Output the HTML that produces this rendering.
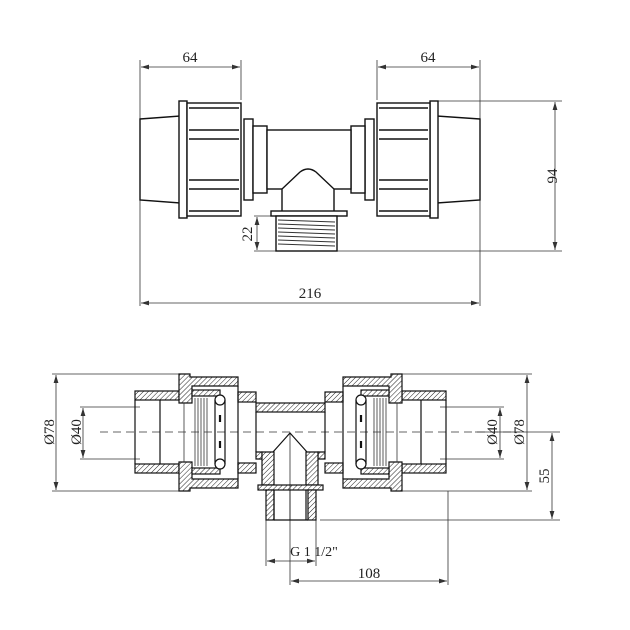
<!DOCTYPE html>
<html><head><meta charset="utf-8"><style>
html,body{margin:0;padding:0;background:#fff}
svg{display:block}
text{font-family:"Liberation Serif",serif;font-size:15px;fill:#222}
</style></head><body>
<svg width="630" height="630" viewBox="0 0 630 630" xmlns="http://www.w3.org/2000/svg">
<defs>
<pattern id="h" width="3.5" height="3.5" patternUnits="userSpaceOnUse" patternTransform="rotate(45)">
<rect width="4" height="4" fill="#fff"/><line x1="0" y1="0" x2="0" y2="4" stroke="#222" stroke-width="1"/>
</pattern>
<marker id="a" viewBox="0 0 10 6" refX="10" refY="3" markerWidth="10" markerHeight="6" orient="auto-start-reverse"><path d="M0,0 L10,3 L0,6 z" fill="#333"/></marker>
</defs>
<g stroke="#333" stroke-width="0.8" fill="none">
<line x1="140" y1="60" x2="140" y2="306"/><line x1="241" y1="60" x2="241" y2="100"/>
<line x1="377" y1="60" x2="377" y2="100"/><line x1="480" y1="60" x2="480" y2="306"/>
<line x1="141" y1="67" x2="240" y2="67" marker-start="url(#a)" marker-end="url(#a)"/>
<line x1="378" y1="67" x2="479" y2="67" marker-start="url(#a)" marker-end="url(#a)"/>
<line x1="141" y1="303" x2="479" y2="303" marker-start="url(#a)" marker-end="url(#a)"/>
<line x1="437" y1="101" x2="562" y2="101"/><line x1="337" y1="251" x2="562" y2="251"/>
<line x1="555" y1="102" x2="555" y2="250" marker-start="url(#a)" marker-end="url(#a)"/>
<line x1="254" y1="216" x2="271" y2="216"/><line x1="254" y1="251" x2="276" y2="251"/>
<line x1="257" y1="217" x2="257" y2="250" marker-start="url(#a)" marker-end="url(#a)"/>
</g>
<g stroke="#111" stroke-width="1.4" fill="#fff">
<path d="M140,119 L180,116 L180,203 L140,200 Z"/>
<rect x="179" y="101" width="8" height="117"/>
<rect x="187" y="103" width="54" height="113"/>
<line x1="189" y1="108" x2="239" y2="108"/><line x1="189" y1="130" x2="239" y2="130"/><line x1="189" y1="139" x2="239" y2="139"/>
<line x1="189" y1="180" x2="239" y2="180"/><line x1="189" y1="189" x2="239" y2="189"/><line x1="189" y1="211" x2="239" y2="211"/>
<rect x="244" y="119" width="9" height="81"/><rect x="253" y="126" width="14" height="67"/>
<path d="M480,119 L437,116 L437,203 L480,200 Z"/>
<rect x="430" y="101" width="8" height="117"/>
<rect x="377" y="103" width="53" height="113"/>
<line x1="379" y1="108" x2="428" y2="108"/><line x1="379" y1="130" x2="428" y2="130"/><line x1="379" y1="139" x2="428" y2="139"/>
<line x1="379" y1="180" x2="428" y2="180"/><line x1="379" y1="189" x2="428" y2="189"/><line x1="379" y1="211" x2="428" y2="211"/>
<rect x="365" y="119" width="9" height="81"/><rect x="351" y="126" width="14" height="67"/>
<rect x="267" y="130" width="84" height="59"/>
<path d="M282,189 L282,213 L334,213 L334,189 L316,172 Q308,166 300,172 Z"/>
<rect x="271" y="211" width="76" height="5"/>
<rect x="276" y="216" width="61" height="35"/>
</g>
<g stroke="#333" stroke-width="0.9">
<line x1="278" y1="220" x2="335" y2="222"/><line x1="278" y1="224" x2="335" y2="226"/><line x1="278" y1="228" x2="335" y2="230"/>
<line x1="278" y1="232" x2="335" y2="234"/><line x1="278" y1="236" x2="335" y2="238"/><line x1="278" y1="240" x2="335" y2="242"/>
<line x1="278" y1="244" x2="335" y2="246"/>
</g>
<text x="190" y="62" text-anchor="middle">64</text>
<text x="428" y="62" text-anchor="middle">64</text>
<text x="310" y="298" text-anchor="middle">216</text>
<text transform="translate(557,176) rotate(-90)" text-anchor="middle">94</text>
<text transform="translate(252,234) rotate(-90)" text-anchor="middle">22</text>

<g stroke="#333" stroke-width="0.8" fill="none">
<line x1="52" y1="374" x2="180" y2="374"/><line x1="52" y1="491" x2="180" y2="491"/>
<line x1="56" y1="375" x2="56" y2="490" marker-start="url(#a)" marker-end="url(#a)"/>
<line x1="80" y1="407" x2="140" y2="407"/><line x1="80" y1="459" x2="140" y2="459"/>
<line x1="83" y1="408" x2="83" y2="458" marker-start="url(#a)" marker-end="url(#a)"/>
<line x1="400" y1="374" x2="532" y2="374"/><line x1="400" y1="491" x2="532" y2="491"/>
<line x1="527" y1="375" x2="527" y2="490" marker-start="url(#a)" marker-end="url(#a)"/>
<line x1="440" y1="407" x2="504" y2="407"/><line x1="440" y1="459" x2="504" y2="459"/>
<line x1="500" y1="408" x2="500" y2="458" marker-start="url(#a)" marker-end="url(#a)"/>
<line x1="475" y1="432" x2="560" y2="432"/><line x1="320" y1="520" x2="560" y2="520"/>
<line x1="552" y1="433" x2="552" y2="519" marker-start="url(#a)" marker-end="url(#a)"/>
<line x1="266" y1="520" x2="266" y2="566"/><line x1="316" y1="520" x2="316" y2="566"/>
<line x1="267" y1="561" x2="315" y2="561" marker-start="url(#a)" marker-end="url(#a)"/>
<line x1="290" y1="490" x2="290" y2="585"/><line x1="448" y1="491" x2="448" y2="585"/>
<line x1="291" y1="581" x2="447" y2="581" marker-start="url(#a)" marker-end="url(#a)"/>
<line x1="100" y1="432" x2="520" y2="432" stroke-dasharray="8,5"/>
</g>
<g stroke="#111" stroke-width="1.2" fill="url(#h)">
<rect x="135" y="391" width="44" height="9"/><rect x="135" y="464" width="44" height="9"/>
<line x1="135" y1="400" x2="135" y2="464" fill="none"/><line x1="160" y1="400" x2="160" y2="464" fill="none"/>
<path d="M179,374 L190,374 L190,377 L238,377 L238,386 L192,386 L192,403 L179,403 Z"/>
<path d="M179,491 L190,491 L190,488 L238,488 L238,479 L192,479 L192,462 L179,462 Z"/>
<rect x="192" y="390" width="28" height="6"/><rect x="192" y="468" width="28" height="6"/>
<rect x="238" y="392" width="18" height="10"/><rect x="238" y="463" width="18" height="10"/>
<rect x="402" y="391" width="44" height="9"/><rect x="402" y="464" width="44" height="9"/>
<line x1="446" y1="400" x2="446" y2="464" fill="none"/><line x1="421" y1="400" x2="421" y2="464" fill="none"/>
<path d="M402,374 L391,374 L391,377 L343,377 L343,386 L389,386 L389,403 L402,403 Z"/>
<path d="M402,491 L391,491 L391,488 L343,488 L343,479 L389,479 L389,462 L402,462 Z"/>
<rect x="361" y="390" width="28" height="6"/><rect x="361" y="468" width="28" height="6"/>
<rect x="325" y="392" width="18" height="10"/><rect x="325" y="463" width="18" height="10"/>
<rect x="256" y="403" width="69" height="9"/>
<path d="M256,452 L262,452 L262,459 L256,459 Z"/><path d="M325,452 L318,452 L318,459 L325,459 Z"/>
<path d="M262,452 L274,452 L274,485 L262,485 Z"/><path d="M306,452 L318,452 L318,485 L306,485 Z"/>
<rect x="258" y="485" width="65" height="5"/>
<rect x="266" y="490" width="8" height="30"/><rect x="308" y="490" width="8" height="30"/>
</g>
<g stroke="#111" stroke-width="1.2" fill="none">
<line x1="256" y1="412" x2="256" y2="452"/><line x1="325" y1="412" x2="325" y2="452"/>
<line x1="274" y1="490" x2="274" y2="520"/><line x1="306" y1="490" x2="306" y2="520"/>
<line x1="274" y1="520" x2="308" y2="520"/>
<path d="M273,452 L290,433 L307,452"/>
<line x1="290" y1="433" x2="290" y2="520" stroke-width="0.7"/>
<line x1="238" y1="386" x2="238" y2="479"/><line x1="343" y1="386" x2="343" y2="479"/>
<circle cx="220" cy="400" r="5" fill="#fff"/><circle cx="220" cy="464" r="5" fill="#fff"/>
<circle cx="361" cy="400" r="5" fill="#fff"/><circle cx="361" cy="464" r="5" fill="#fff"/>
<line x1="215" y1="400" x2="215" y2="464"/><line x1="225" y1="400" x2="225" y2="464"/>
<line x1="356" y1="400" x2="356" y2="464"/><line x1="366" y1="400" x2="366" y2="464"/>
</g>
<g stroke="#111" stroke-width="2.2">
<line x1="220" y1="415" x2="220" y2="422"/><line x1="220" y1="441" x2="220" y2="448"/>
<line x1="361" y1="415" x2="361" y2="422"/><line x1="361" y1="441" x2="361" y2="448"/>
</g>
<g stroke="#333" stroke-width="0.8">
<line x1="195" y1="398" x2="195" y2="466"/><line x1="198" y1="398" x2="198" y2="466"/><line x1="201" y1="398" x2="201" y2="466"/>
<line x1="204" y1="398" x2="204" y2="466"/><line x1="207" y1="398" x2="207" y2="466"/><line x1="184" y1="403" x2="184" y2="462"/>
<line x1="386" y1="398" x2="386" y2="466"/><line x1="383" y1="398" x2="383" y2="466"/><line x1="380" y1="398" x2="380" y2="466"/>
<line x1="377" y1="398" x2="377" y2="466"/><line x1="374" y1="398" x2="374" y2="466"/><line x1="397" y1="403" x2="397" y2="462"/>
</g>
<text transform="translate(54,432) rotate(-90)" text-anchor="middle">Ø78</text>
<text transform="translate(81,432) rotate(-90)" text-anchor="middle">Ø40</text>
<text transform="translate(497,432) rotate(-90)" text-anchor="middle">Ø40</text>
<text transform="translate(524,432) rotate(-90)" text-anchor="middle">Ø78</text>
<text transform="translate(549,476) rotate(-90)" text-anchor="middle">55</text>
<text x="314" y="556" text-anchor="middle" style="font-size:14px">G 1 1/2"</text>
<text x="369" y="578" text-anchor="middle">108</text>
</svg>
</body></html>
